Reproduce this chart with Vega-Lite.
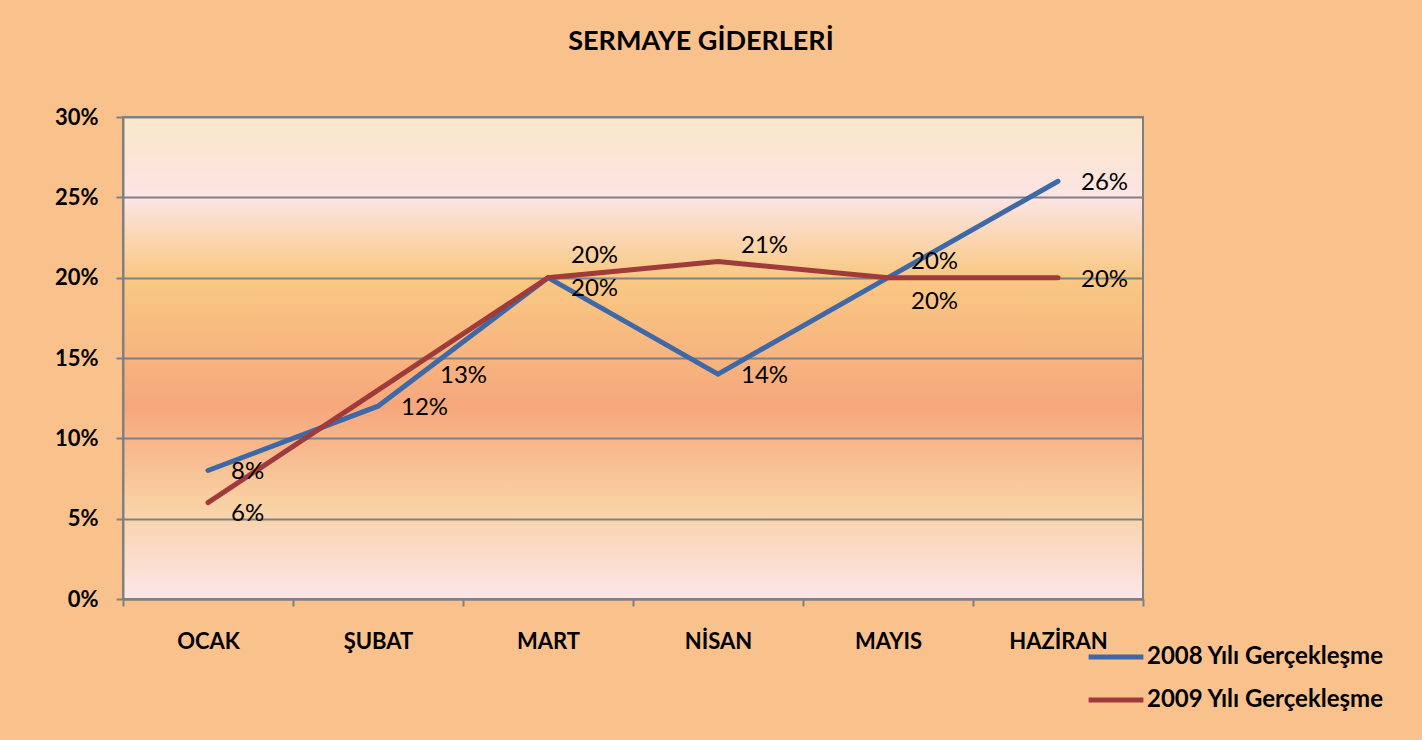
{
  "$schema": "https://vega.github.io/schema/vega-lite/v6.json",
  "autosize": "none",
  "width": 1020,
  "height": 482,
  "padding": {"left": 123, "top": 117, "right": 279, "bottom": 141},
  "background": "#F9C28C",
  "title": {
    "text": "SERMAYE GİDERLERİ",
    "anchor": "middle",
    "dx": 68,
    "offset": 50,
    "font": "Lato",
    "fontSize": 27,
    "fontWeight": "bold",
    "color": "#000000"
  },
  "config": {
    "font": "Lato",
    "view": {
      "stroke": "#808080",
      "strokeWidth": 2,
      "fill": {
        "gradient": "linear",
        "x1": 0, "y1": 0, "x2": 0, "y2": 1,
        "stops": [
          {"offset": 0, "color": "#FAE8CB"},
          {"offset": 0.17, "color": "#FCE4E4"},
          {"offset": 0.33, "color": "#F9C983"},
          {"offset": 0.6, "color": "#F6A77C"},
          {"offset": 0.8, "color": "#F9D0A2"},
          {"offset": 1, "color": "#FCE6EA"}
        ]
      }
    }
  },
  "data": {
    "values": [
      {"ay": "OCAK", "seri": "2008 Yılı Gerçekleşme", "deger": 0.08},
      {"ay": "ŞUBAT", "seri": "2008 Yılı Gerçekleşme", "deger": 0.12},
      {"ay": "MART", "seri": "2008 Yılı Gerçekleşme", "deger": 0.20},
      {"ay": "NİSAN", "seri": "2008 Yılı Gerçekleşme", "deger": 0.14},
      {"ay": "MAYIS", "seri": "2008 Yılı Gerçekleşme", "deger": 0.20},
      {"ay": "HAZİRAN", "seri": "2008 Yılı Gerçekleşme", "deger": 0.26},
      {"ay": "OCAK", "seri": "2009 Yılı Gerçekleşme", "deger": 0.06},
      {"ay": "ŞUBAT", "seri": "2009 Yılı Gerçekleşme", "deger": 0.13},
      {"ay": "MART", "seri": "2009 Yılı Gerçekleşme", "deger": 0.20},
      {"ay": "NİSAN", "seri": "2009 Yılı Gerçekleşme", "deger": 0.21},
      {"ay": "MAYIS", "seri": "2009 Yılı Gerçekleşme", "deger": 0.20},
      {"ay": "HAZİRAN", "seri": "2009 Yılı Gerçekleşme", "deger": 0.20}
    ]
  },
  "encoding": {
    "x": {
      "field": "ay",
      "type": "nominal",
      "sort": ["OCAK", "ŞUBAT", "MART", "NİSAN", "MAYIS", "HAZİRAN"],
      "scale": {"type": "band", "paddingInner": 0, "paddingOuter": 0},
      "axis": {
        "title": null,
        "labelAngle": 0,
        "labelFont": "Lato",
        "labelFontSize": 22,
        "labelFontWeight": "bold",
        "labelColor": "#000000",
        "labelPadding": 25,
        "tickBand": "extent",
        "tickSize": 7,
        "tickColor": "#808080",
        "tickWidth": 2,
        "domainColor": "#808080",
        "domainWidth": 2
      }
    },
    "y": {
      "field": "deger",
      "type": "quantitative",
      "scale": {"domain": [0, 0.3], "nice": false},
      "axis": {
        "title": null,
        "format": ".0%",
        "values": [0, 0.05, 0.1, 0.15, 0.2, 0.25, 0.3],
        "labelFont": "Lato",
        "labelFontSize": 22,
        "labelFontWeight": "bold",
        "labelColor": "#000000",
        "labelPadding": 18,
        "tickSize": 7,
        "tickColor": "#808080",
        "tickWidth": 2,
        "domainColor": "#808080",
        "domainWidth": 2,
        "grid": true,
        "gridColor": "#808080",
        "gridWidth": 2
      }
    }
  },
  "layer": [
    {
      "mark": {"type": "line", "strokeWidth": 5, "strokeCap": "round", "strokeJoin": "miter"},
      "encoding": {
        "color": {
          "field": "seri",
          "type": "nominal",
          "scale": {"domain": ["2008 Yılı Gerçekleşme", "2009 Yılı Gerçekleşme"], "range": ["#3F69A6", "#A03B3B"]},
          "legend": {
            "title": null,
            "orient": "none",
            "legendX": 963,
            "legendY": 510,
            "symbolType": "stroke",
            "symbolSize": 3000,
            "symbolStrokeWidth": 5,
            "labelFont": "Lato",
            "labelFontSize": 24,
            "labelFontWeight": "bold",
            "labelColor": "#000000",
            "labelLimit": 400,
            "labelOffset": 1,
            "rowPadding": 1
          }
        }
      }
    },
    {
      "transform": [{"filter": "(datum.seri == '2008 Yılı Gerçekleşme' && indexof(['OCAK','ŞUBAT','NİSAN','HAZİRAN'], datum.ay) >= 0) || (datum.seri == '2009 Yılı Gerçekleşme' && datum.ay == 'HAZİRAN')"}],
      "mark": {"type": "text", "align": "left", "baseline": "middle", "dx": 23, "dy": 2, "fontSize": 24, "font": "Lato", "color": "#000000"},
      "encoding": {"text": {"field": "deger", "type": "quantitative", "format": ".0%"}}
    },
    {
      "transform": [{"filter": "(datum.seri == '2008 Yılı Gerçekleşme' && datum.ay == 'MART') || (datum.seri == '2009 Yılı Gerçekleşme' && datum.ay == 'OCAK')"}],
      "mark": {"type": "text", "align": "left", "baseline": "middle", "dx": 23, "dy": 11, "fontSize": 24, "font": "Lato", "color": "#000000"},
      "encoding": {"text": {"field": "deger", "type": "quantitative", "format": ".0%"}}
    },
    {
      "transform": [{"filter": "(datum.seri == '2008 Yılı Gerçekleşme' && datum.ay == 'MAYIS') || (datum.seri == '2009 Yılı Gerçekleşme' && datum.ay == 'NİSAN')"}],
      "mark": {"type": "text", "align": "left", "baseline": "middle", "dx": 23, "dy": -16, "fontSize": 24, "font": "Lato", "color": "#000000"},
      "encoding": {"text": {"field": "deger", "type": "quantitative", "format": ".0%"}}
    },
    {
      "transform": [{"filter": "datum.seri == '2009 Yılı Gerçekleşme' && datum.ay == 'MART'"}],
      "mark": {"type": "text", "align": "left", "baseline": "middle", "dx": 23, "dy": -22, "fontSize": 24, "font": "Lato", "color": "#000000"},
      "encoding": {"text": {"field": "deger", "type": "quantitative", "format": ".0%"}}
    },
    {
      "transform": [{"filter": "datum.seri == '2009 Yılı Gerçekleşme' && datum.ay == 'MAYIS'"}],
      "mark": {"type": "text", "align": "left", "baseline": "middle", "dx": 23, "dy": 24, "fontSize": 24, "font": "Lato", "color": "#000000"},
      "encoding": {"text": {"field": "deger", "type": "quantitative", "format": ".0%"}}
    },
    {
      "transform": [{"filter": "datum.seri == '2009 Yılı Gerçekleşme' && datum.ay == 'ŞUBAT'"}],
      "mark": {"type": "text", "align": "left", "baseline": "middle", "dx": 62, "dy": -14, "fontSize": 24, "font": "Lato", "color": "#000000"},
      "encoding": {"text": {"field": "deger", "type": "quantitative", "format": ".0%"}}
    }
  ]
}
